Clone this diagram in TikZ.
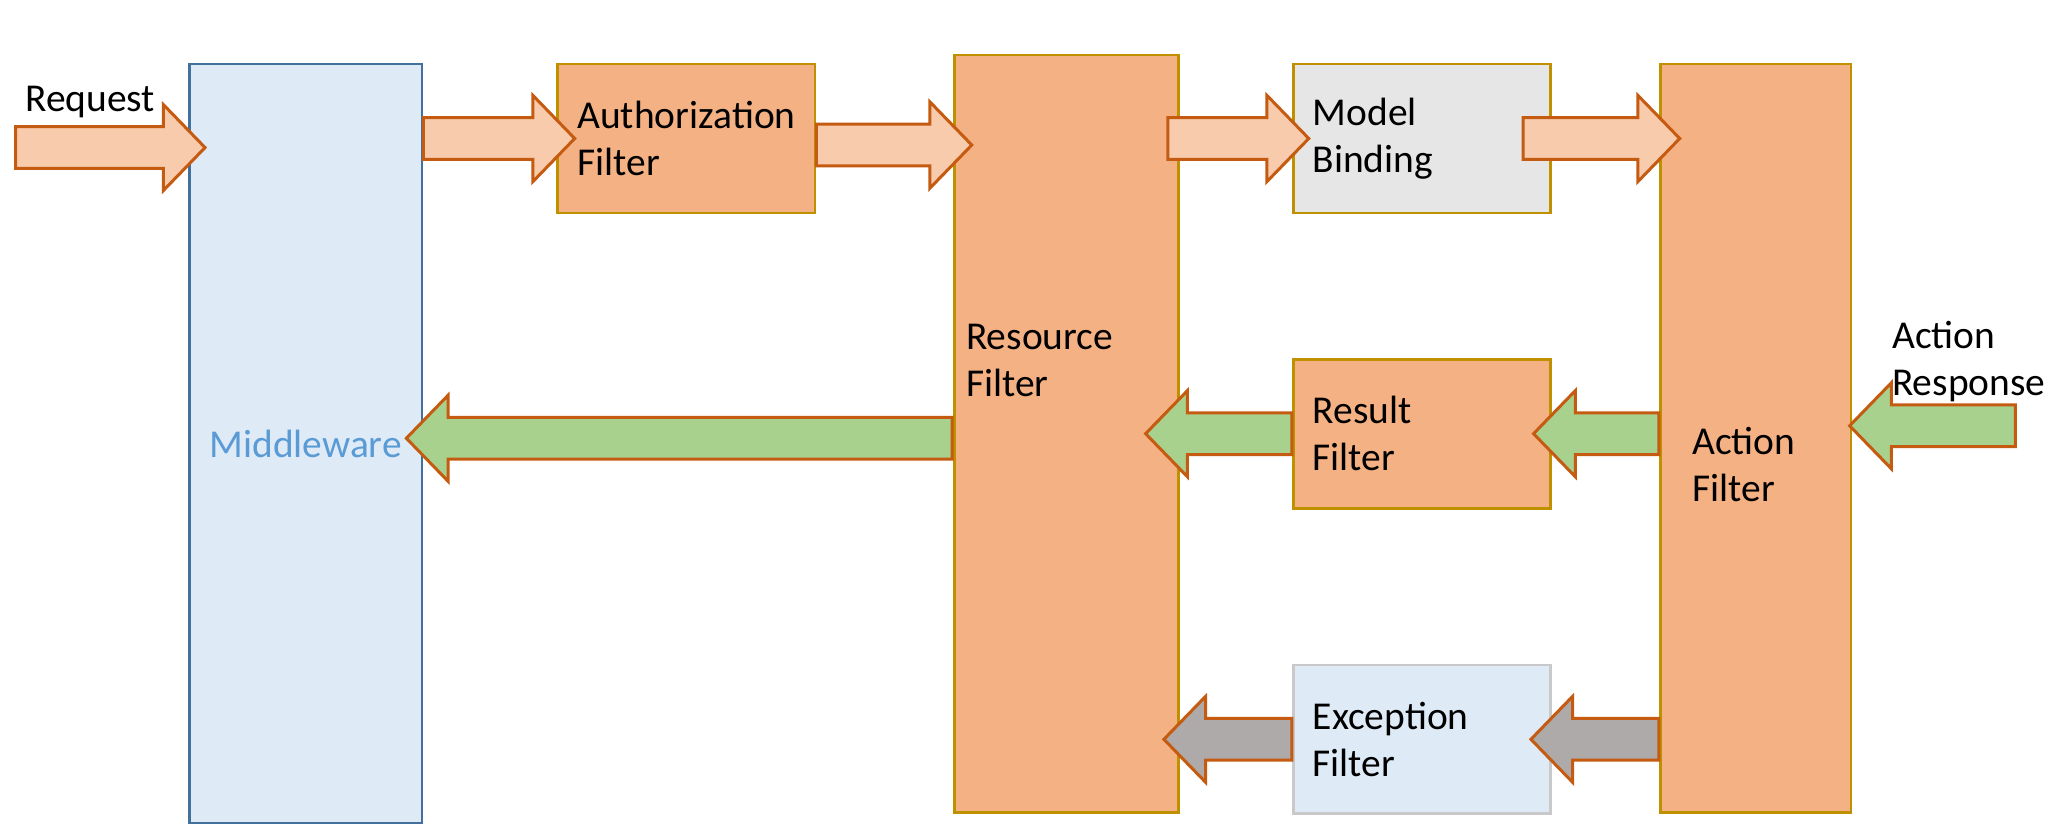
\documentclass[tikz,border=0pt]{standalone}
\usepackage{fontspec}
\setmainfont{Carlito}
\usepackage{tikz}
\usetikzlibrary{calc,positioning}

\definecolor{mwfill}{HTML}{DEEBF7}
\definecolor{mwline}{HTML}{41719C}
\definecolor{mwtext}{HTML}{5B9BD5}
\definecolor{boxfill}{HTML}{F4B183}
\definecolor{boxline}{HTML}{BF9000}
\definecolor{grayfill}{HTML}{E7E6E6}
\definecolor{excline}{HTML}{C9C9C9}
\definecolor{inarrow}{HTML}{F8CBAD}
\definecolor{arrowline}{HTML}{C55A11}
\definecolor{greenarrow}{HTML}{A9D18E}
\definecolor{grayarrow}{HTML}{AEAAAA}

\newcommand{\blockarrow}[3]{%
	\draw[#1] let \p1=(#2), \p2=(#3), \n1={((\x2>\x1)*2-1)*0.32cm} in
		(\x1,{\y1+0.16cm}) -- ({\x2-(\n1)},{\y1+0.16cm}) -- ({\x2-(\n1)},{\y1+0.33cm})
		-- (\x2,\y1) -- ({\x2-(\n1)},{\y1-0.33cm}) -- ({\x2-(\n1)},{\y1-0.16cm})
		-- (\x1,{\y1-0.16cm}) -- cycle;}

\begin{document}
\begin{tikzpicture}[font={\fontsize{8.6}{10.3}\selectfont},
		tallbox/.style={draw=boxline,fill=boxfill,line width=0.6pt,anchor=north west,minimum width=#1},
		filterbox/.style={draw=boxline,fill=boxfill,line width=0.6pt,anchor=north west,minimum height=1.14cm,text width=1.67cm,inner xsep=0.15cm,align=left},
		lbl/.style={align=left,inner sep=0pt},
		fwd/.style={fill=inarrow,draw=arrowline,line width=0.65pt,line join=miter},
		back/.style={fill=greenarrow,draw=arrowline,line width=0.65pt,line join=miter},
		err/.style={fill=grayarrow,draw=arrowline,line width=0.65pt,line join=miter}]

	\useasboundingbox (0,0) rectangle (15.68,-6.42);

	\node[draw=mwline,fill=mwfill,line width=0.6pt,anchor=north west,minimum width=1.78cm,minimum height=5.81cm,text=mwtext] (mw) at (1.44,-0.48) {Middleware};
	\node[filterbox] (auth) at (4.26,-0.48) {Authorization\\Filter};
	\node[tallbox=1.71cm,minimum height=5.80cm] (res) at (7.30,-0.41) {};
	\node[filterbox,fill=grayfill] (model) at (9.89,-0.48) {Model\\Binding};
	\node[filterbox] (result) at (9.89,-2.74) {Result\\Filter};
	\node[filterbox,fill=mwfill,draw=excline] (exc) at (9.89,-5.08) {Exception\\Filter};
	\node[tallbox=1.46cm,minimum height=5.73cm] (act) at (12.70,-0.48) {};

	\node[lbl,anchor=west] (resText) at ($(res.west)+(0.09,0.56)$) {Resource\\Filter};
	\node[lbl,anchor=west] (actText) at ($(act.west)+(0.25,-0.20)$) {Action\\Filter};
	\node[lbl] (reqText) at (0.69,-0.78) {Request};
	\node[lbl,anchor=west] (respText) at (14.48,-2.77) {Action\\Response};

	\coordinate (reqTail) at (0.12,-1.13);
	\coordinate (respTail) at (15.43,-3.26);

	\blockarrow{fwd}{reqTail}{$(mw.west |- reqTail)+(0.13,0)$}
	\blockarrow{fwd}{mw.east |- auth.west}{$(auth.west)+(0.14,0)$}
	\blockarrow{fwd}{$(auth.east)+(0,-0.05)$}{$(res.west |- auth.east)+(0.14,-0.05)$}
	\blockarrow{fwd}{$(res.east |- model.west)+(-0.09,0)$}{$(model.west)+(0.13,0)$}
	\blockarrow{fwd}{$(model.east)+(-0.22,0)$}{$(act.west |- model.east)+(0.16,0)$}

	\blockarrow{back}{respTail}{$(act.east |- respTail)+(-0.02,0)$}
	\blockarrow{back}{act.west |- result.east}{$(result.east)+(-0.14,0)$}
	\blockarrow{back}{result.west}{$(res.east |- result.west)+(-0.26,0)$}
	\blockarrow{back}{$(res.west |- mw.east)+(-0.01,0.04)$}{$(mw.east)+(-0.13,0.04)$}

	\blockarrow{err}{act.west |- exc.east}{$(exc.east)+(-0.16,0)$}
	\blockarrow{err}{exc.west}{$(res.east |- exc.west)+(-0.12,0)$}

\end{tikzpicture}
\end{document}
